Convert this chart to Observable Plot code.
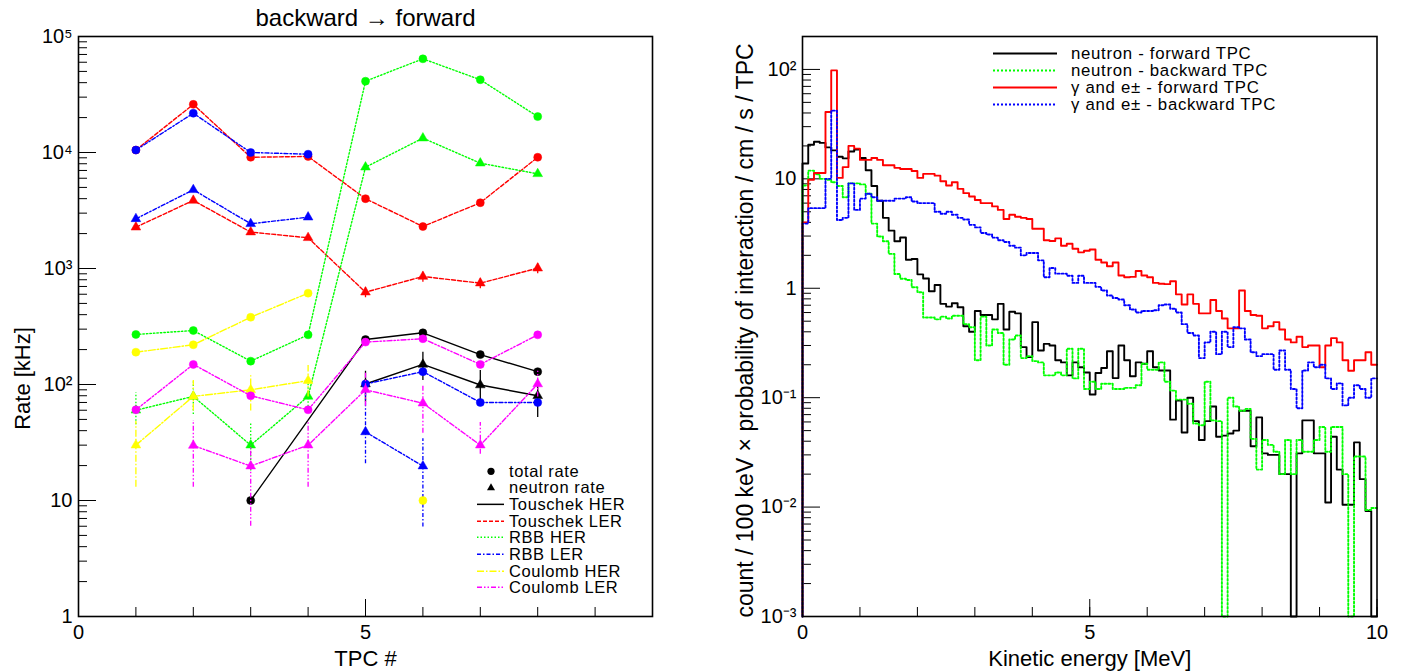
<!DOCTYPE html>
<html><head><meta charset="utf-8">
<script src="https://cdn.jsdelivr.net/npm/d3@7"></script>
<script src="https://cdn.jsdelivr.net/npm/@observablehq/plot@0.6"></script>
<style>
body{margin:0;background:#fff;font-family:"Liberation Sans",Arial,Helvetica,sans-serif;}
#wrap{position:relative;width:1408px;height:671px;overflow:hidden;}
#left,#right{position:absolute;top:0;}
#left{left:0}#right{left:704px}
.legend{position:absolute;color:#000;font-family:"Liberation Sans",Arial,sans-serif;}
.legend .row{display:flex;align-items:center;white-space:nowrap}
.legend svg{flex:none;display:block}
</style></head><body>
<div id="wrap"><div id="left"></div><div id="right"></div><div id="legL" class="legend"></div><div id="legR" class="legend"></div></div>
<script>
// ---------------- LEFT PANEL DATA (rates in kHz, per TPC) ----------------
const tpc = [1, 2, 3, 4, 5, 6, 7, 8];
const leftTitle = "backward \u2192 forward";
const leftYTicks = [1, 10, 100, 1000, 10000, 100000];
const leftYTickLabels = ["1", "10", "10\u00b2", "10\u00b3", "10\u2074", "10\u2075"];
const leftXTickLabels = [0, 5];

const touschekHER_total   = [null, null, 10, null, 244, 279, 181, 129];
const touschekHER_neutron = [null, null, null, null, 101, 149, 99, 80];
const touschekHER_lo      = [null, null, null, null, 70, 108, 73, 52];
const touschekHER_hi      = [null, null, null, null, 130, 190, 132, 102];

const touschekLER_total   = [10500, 26000, 9100, 9240, 4000, 2300, 3690, 9100];
const touschekLER_neutron = [2270, 3860, 2060, 1840, 625, 853, 748, 1006];
const touschekLER_lo      = [null, null, null, null, 560, 760, 670, 900];
const touschekLER_hi      = [null, null, null, null, 700, 960, 840, 1120];

const rbbHER_total   = [270, 292, 159, 268, 41200, 64200, 42400, 20400];
const rbbHER_neutron = [60, 79, 30, 79, 7470, 13300, 8090, 6550];
const rbbHER_lo      = [45, 55, 18, 60, null, null, null, null];
const rbbHER_hi      = [85, 105, 47, 100, null, null, null, null];

const rbbLER_total   = [10500, 21800, 10000, 9670, 101, 129, 70, 70];
const rbbLER_neutron = [2680, 4770, 2430, 2770, 39, 19.8, null, null];
const rbbLER_lo      = [null, null, null, null, 20.7, 5.9, null, null];
const rbbLER_hi      = [null, null, null, null, 92, 34, null, null];
const rbbLER_segT    = [0, 0, 0, 0, 1, 1, 1, 1];
const rbbLER_segN    = [0, 0, 0, 0, 1, 1, 1, 1];

const coulombHER_total   = [190, 220, 380, 613, null, 10, null, null];
const coulombHER_neutron = [30, 79, 90, 108, null, null, null, null];
const coulombHER_lo      = [13, 59, 59, 78, null, null, null, null];
const coulombHER_hi      = [48, 108, 119, 146, null, null, null, null];
const coulombHER_segT    = [0, 0, 0, 0, 1, 1, 1, 1];

const coulombLER_total   = [60.5, 149, 80, 60.5, 232, 248, 149, 268];
const coulombLER_neutron = [null, 29.8, 19.8, 30, 90, 69, 30, 101];
const coulombLER_lo      = [null, 13, 6, 13, 65, 38, 25, 78];
const coulombLER_hi      = [null, 49, 30, 49, 125, 100, 47, 130];

const leftSeriesNames  = ["Touschek HER", "Touschek LER", "RBB HER", "RBB LER", "Coulomb HER", "Coulomb LER"];
const leftSeriesColors = ["#000000", "#ff0000", "#00ff00", "#0000ff", "#ffff00", "#ff00ff"];
const leftSeriesDash   = [null, "4,2", "1.5,2", "4,2,1.5,2", "7,2,1.5,2", "5,2,1.5,2,1.5,2"];

// ---------------- RIGHT PANEL DATA (100 bins of 100 keV, 0-10 MeV) ----------------
const binWidth = 0.1;
const rightYTicks = [0.001, 0.01, 0.1, 1, 10, 100];
const rightYTickLabels = ["10\u207b\u00b3", "10\u207b\u00b2", "10\u207b\u00b9", "1", "10", "10\u00b2"];
const rightXTickLabels = [0, 5, 10];

const neutronForward = [
 13.8, 20.5, 21.8, 21.3, 19.4, 18.2, 15.9, 15.4, 17.8, 18.5,
 15.5, 12.0, 8.6, 6.3, 4.4, 3.36, 2.69, 2.91, 1.82, 1.85,
 1.34, 1.23, 0.94, 1.07, 0.72, 0.68, 0.73, 0.67, 0.45, 0.40,
 0.62, 0.57, 0.57, 0.52, 0.72, 0.42, 0.61, 0.59, 0.29, 0.235,
 0.49, 0.27, 0.31, 0.30, 0.22, 0.21, 0.16, 0.21, 0.19, 0.17,
 0.107, 0.168, 0.187, 0.266, 0.151, 0.30, 0.22, 0.157, 0.21, 0.204,
 0.266, 0.19, 0.177, 0.177, 0.063, 0.094, 0.048, 0.10, 0.061, 0.041,
 0.061, 0.083, 0.044, 0.045, 0.047, 0.05, 0.076, 0.076, 0.036, 0.066,
 0.031, 0.030, 0.030, 0.020, 0.020, 0, 0.031, 0.062, 0.062, 0.031,
 0.031, 0.011, 0.044, 0.022, 0.0105, 0.0105, 0.039, 0.018, 0.0092, 0];
const neutronBackward = [
 8.7, 11.9, 11, 10, 9.8, 9.3, 8.6, 6.8, 9.1, 9.1,
 8.9, 7.3, 3.9, 2.97, 2.69, 2.06, 1.35, 1.22, 1.19, 1.02,
 0.92, 0.54, 0.54, 0.52, 0.55, 0.53, 0.56, 0.56, 0.47, 0.44,
 0.22, 0.55, 0.30, 0.42, 0.39, 0.2, 0.34, 0.37, 0.23, 0.24,
 0.216, 0.21, 0.16, 0.16, 0.17, 0.16, 0.28, 0.15, 0.28, 0.12,
 0.14, 0.12, 0.134, 0.134, 0.12, 0.12, 0.123, 0.123, 0.13, 0.204,
 0.18, 0.18, 0.21, 0.14, 0.116, 0.096, 0.096, 0.088, 0.058, 0.056,
 0.14, 0.062, 0.061, 0, 0.10, 0.083, 0.076, 0.079, 0.042, 0.022,
 0.041, 0.037, 0.032, 0.020, 0.041, 0.020, 0.041, 0.032, 0.032, 0.041,
 0.054, 0.032, 0.054, 0.054, 0.020, 0, 0.029, 0.029, 0.0094, 0.0098];
const gammaForward = [
 4.0, 9.8, 11.3, 11.3, 40.8, 98, 10.2, 12.8, 20, 18.9,
 14.9, 14.9, 15.5, 14.9, 13.3, 13.3, 12.6, 12.3, 12.3, 11.8,
 10.2, 11.1, 11.1, 10.7, 9.5, 8.7, 9.3, 8.1, 7.4, 6.9,
 6.4, 6.0, 6.0, 5.6, 5.2, 4.3, 4.7, 4.5, 4.4, 4.3,
 3.5, 3.5, 2.75, 2.7, 2.86, 2.45, 2.55, 2.3, 2.13, 2.2,
 2.26, 1.82, 1.72, 1.59, 1.72, 1.31, 1.26, 1.27, 1.44, 1.31,
 1.26, 1.12, 1.10, 1.09, 1.16, 0.88, 0.71, 0.88, 0.72, 0.59,
 0.59, 0.78, 0.62, 0.53, 0.43, 0.43, 0.955, 0.62, 0.57, 0.56,
 0.43, 0.45, 0.49, 0.42, 0.34, 0.32, 0.36, 0.29, 0.30, 0.30,
 0.19, 0.30, 0.35, 0.32, 0.22, 0.176, 0.22, 0.22, 0.26, 0.2];
const gammaBackward = [
 3.9, 5.4, 5.4, 5.4, 10, 42, 4.2, 4.4, 9.1, 5.2,
 6.6, 7.3, 6.8, 6.3, 6.3, 6.3, 6.6, 6.6, 6.8, 6.2,
 6.0, 6.0, 6.0, 5.0, 4.8, 5.0, 4.7, 4.4, 4.25, 3.8,
 3.6, 3.2, 3.1, 2.9, 2.75, 2.65, 2.45, 2.35, 2.0, 2.1,
 2.1, 1.8, 1.26, 1.53, 1.36, 1.36, 1.3, 1.12, 1.3, 1.12,
 1.12, 1.03, 0.955, 0.86, 0.815, 0.79, 0.70, 0.64, 0.60, 0.62,
 0.62, 0.63, 0.70, 0.71, 0.65, 0.60, 0.47, 0.39, 0.37, 0.23,
 0.32, 0.40, 0.25, 0.40, 0.29, 0.44, 0.43, 0.34, 0.26, 0.24,
 0.25, 0.25, 0.18, 0.27, 0.18, 0.12, 0.08, 0.177, 0.21, 0.19,
 0.2, 0.15, 0.12, 0.135, 0.085, 0.1, 0.13, 0.12, 0.1, 0.15];

const rightSeriesNames  = ["neutron - forward TPC", "neutron - backward TPC", "\u03b3 and e\u00b1 - forward TPC", "\u03b3 and e\u00b1 - backward TPC"];
const rightSeriesColors = ["#000000", "#00ff00", "#ff0000", "#0000ff"];
const rightSeriesDash   = [null, "2,2", null, "2,2"];
const rightYTitle = "count / 100 keV \u00d7 probability of interaction / cm / s / TPC";
const rightXTitle = "Kinetic energy [MeV]";
const leftYTitle = "Rate [kHz]";
const leftXTitle = "TPC #";

// ---------------- BUILD ----------------
const FONT = '"Liberation Sans", Arial, Helvetica, sans-serif';
const W = 704, H = 671;
const MT = 36, MB = 55;
const TICKFONT = 20, TITLEFONT = 22;

function decadeMinors(lo, hi) {
  const out = [];
  for (let d = lo; d < hi; d *= 10) for (let m = 2; m <= 9; m++) if (d * m < hi) out.push(d * m);
  return out;
}

const leftData = [
  {total: touschekHER_total, neutron: touschekHER_neutron, lo: touschekHER_lo, hi: touschekHER_hi},
  {total: touschekLER_total, neutron: touschekLER_neutron, lo: touschekLER_lo, hi: touschekLER_hi},
  {total: rbbHER_total, neutron: rbbHER_neutron, lo: rbbHER_lo, hi: rbbHER_hi},
  {total: rbbLER_total, neutron: rbbLER_neutron, lo: rbbLER_lo, hi: rbbLER_hi, segT: rbbLER_segT, segN: rbbLER_segN},
  {total: coulombHER_total, neutron: coulombHER_neutron, lo: coulombHER_lo, hi: coulombHER_hi, segT: coulombHER_segT},
  {total: coulombLER_total, neutron: coulombLER_neutron, lo: coulombLER_lo, hi: coulombLER_hi}
];

const leftMarks = [];
const LML = 78, LMR = 52;
const lInnerW = W - LML - LMR, innerH = H - MT - MB;
leftData.forEach((s, k) => {
  const color = leftSeriesColors[k], dash = leftSeriesDash[k];
  const rows = [];
  tpc.forEach((t, i) => {
    if (s.total[i] != null) rows.push({kind: "T", tpc: t, v: s.total[i], seg: s.segT ? s.segT[i] : 0});
    if (s.neutron[i] != null) rows.push({kind: "N", tpc: t, v: s.neutron[i], lo: s.lo[i], hi: s.hi[i], seg: s.segN ? s.segN[i] : 0});
  });
  const errRows = rows.filter(d => d.kind === "N" && d.lo != null);
  leftMarks.push(Plot.ruleX(errRows, {x: "tpc", y1: "lo", y2: "hi", stroke: color, strokeWidth: 1.3, strokeDasharray: dash}));
  leftMarks.push(Plot.line(rows, {x: "tpc", y: "v", z: d => d.kind + d.seg, stroke: color, strokeWidth: 1.4, strokeDasharray: dash}));
  leftMarks.push(Plot.dot(rows.filter(d => d.kind === "T"), {x: "tpc", y: "v", r: 4, fill: color, stroke: color, strokeWidth: 0.5, symbol: "circle"}));
  leftMarks.push(Plot.dot(rows.filter(d => d.kind === "N"), {x: "tpc", y: "v", r: 3.6, fill: color, stroke: color, strokeWidth: 0.5, symbol: "triangle"}));
});

const leftPlot = Plot.plot({
  width: W, height: H, marginLeft: LML, marginRight: LMR, marginTop: MT, marginBottom: MB,
  x: {domain: [0, 10]},
  y: {type: "log", domain: [1, 1e5]},
  style: {fontFamily: FONT, fontSize: TICKFONT + "px", color: "#000", background: "#fff", overflow: "visible"},
  marks: [
    Plot.tickY(decadeMinors(1, 1e5), {y: d => d, insetRight: lInnerW - 9, stroke: "#000", strokeWidth: 1}),
    Plot.tickY(leftYTicks, {y: d => d, insetRight: lInnerW - 18, stroke: "#000", strokeWidth: 1}),
    Plot.tickX(d3.range(0, 11), {x: d => d, insetTop: innerH - 9, stroke: "#000", strokeWidth: 1}),
    Plot.tickX([0, 5, 10], {x: d => d, insetTop: innerH - 17, stroke: "#000", strokeWidth: 1}),
    Plot.axisY({ticks: leftYTicks, tickSize: 0, tickPadding: 6, label: null, fontSize: TICKFONT,
      tickFormat: d => leftYTickLabels[leftYTicks.indexOf(d)]}),
    Plot.axisX({ticks: leftXTickLabels, tickSize: 0, tickPadding: 8, label: null, fontSize: TICKFONT, tickFormat: d => String(d)}),
    ...leftMarks,
    Plot.frame({stroke: "#000", strokeWidth: 1.6}),
    Plot.text([leftTitle], {frameAnchor: "top", dy: -18, lineAnchor: "middle", fontSize: 24, textAnchor: "middle", text: d => d}),
    Plot.text([leftYTitle], {frameAnchor: "left", dx: -56, dy: 52, rotate: -90, textAnchor: "middle", lineAnchor: "middle", fontSize: TITLEFONT, text: d => d}),
    Plot.text([leftXTitle], {frameAnchor: "bottom", dy: 42, lineAnchor: "middle", textAnchor: "middle", fontSize: TITLEFONT, text: d => d})
  ]
});
document.getElementById("left").append(leftPlot);

// right panel
const RML = 98, RMR = 31.5;
const rInnerW = W - RML - RMR;
const YMIN = 1e-3, YMAX = 200;
function stepRows(vals) {
  const r = [{e: 0, v: YMIN}];
  vals.forEach((v, i) => r.push({e: i * binWidth, v: v > 0 ? v : YMIN}));
  r.push({e: vals.length * binWidth, v: vals[vals.length - 1] > 0 ? vals[vals.length - 1] : YMIN});
  return r;
}
const rightVals = [neutronForward, neutronBackward, gammaForward, gammaBackward];
const drawOrder = [0, 1, 2, 3];
const rightMarks = drawOrder.map(k => Plot.line(stepRows(rightVals[k]), {
  x: "e", y: "v", curve: "step-after", stroke: rightSeriesColors[k], strokeWidth: 1.9,
  strokeDasharray: rightSeriesDash[k]
}));

const rightPlot = Plot.plot({
  width: W, height: H, marginLeft: RML, marginRight: RMR, marginTop: MT, marginBottom: MB,
  x: {domain: [0, 10]},
  y: {type: "log", domain: [YMIN, YMAX], clamp: true},
  style: {fontFamily: FONT, fontSize: TICKFONT + "px", color: "#000", background: "#fff", overflow: "visible"},
  marks: [
    Plot.tickY(decadeMinors(1e-3, YMAX), {y: d => d, insetRight: rInnerW - 9, stroke: "#000", strokeWidth: 1}),
    Plot.tickY(rightYTicks, {y: d => d, insetRight: rInnerW - 18, stroke: "#000", strokeWidth: 1}),
    Plot.tickX(d3.range(0, 11), {x: d => d, insetTop: innerH - 9, stroke: "#000", strokeWidth: 1}),
    Plot.tickX([0, 5, 10], {x: d => d, insetTop: innerH - 17, stroke: "#000", strokeWidth: 1}),
    Plot.axisY({ticks: rightYTicks, tickSize: 0, tickPadding: 6, label: null, fontSize: TICKFONT,
      tickFormat: d => rightYTickLabels[rightYTicks.indexOf(d)]}),
    Plot.axisX({ticks: rightXTickLabels, tickSize: 0, tickPadding: 8, label: null, fontSize: TICKFONT, tickFormat: d => String(d)}),
    ...rightMarks,
    Plot.frame({stroke: "#000", strokeWidth: 1.6}),
    Plot.text([rightYTitle], {frameAnchor: "left", dx: -57, dy: 4, rotate: -90, textAnchor: "middle", lineAnchor: "middle", fontSize: 23, text: d => d}),
    Plot.text([rightXTitle], {frameAnchor: "bottom", dy: 42, lineAnchor: "middle", textAnchor: "middle", fontSize: TITLEFONT, text: d => d})
  ]
});
document.getElementById("right").append(rightPlot);

// ---------------- LEGENDS ----------------
const svgNS = "http://www.w3.org/2000/svg";
function swatch(w, h, build) {
  const s = document.createElementNS(svgNS, "svg");
  s.setAttribute("width", w); s.setAttribute("height", h);
  build(s);
  return s;
}
function el(tag, attrs) {
  const e = document.createElementNS(svgNS, tag);
  for (const k in attrs) if (attrs[k] != null) e.setAttribute(k, attrs[k]);
  return e;
}
function addRow(container, w, rowH, build, label) {
  const row = document.createElement("div");
  row.className = "row"; row.style.height = rowH + "px";
  row.append(swatch(w, rowH, build));
  const sp = document.createElement("span"); sp.textContent = label;
  sp.style.lineHeight = rowH + "px";
  row.append(sp);
  container.append(row);
}
// left legend
const legL = document.getElementById("legL");
const rhL = 16.7;
legL.style.left = "477px"; legL.style.top = (471 - rhL / 2) + "px";
legL.style.fontSize = "16.5px"; legL.style.letterSpacing = "0.6px";
addRow(legL, 32, rhL, s => s.append(el("circle", {cx: 14, cy: rhL / 2, r: 3.6, fill: "#000"})), "total rate");
addRow(legL, 32, rhL, s => s.append(el("path", {d: `M14,${rhL/2-4} L18,${rhL/2+3} L10,${rhL/2+3}Z`, fill: "#000"})), "neutron rate");
leftSeriesNames.forEach((n, k) => addRow(legL, 32, rhL, s => s.append(el("line", {x1: 0, x2: 27, y1: rhL / 2, y2: rhL / 2, stroke: leftSeriesColors[k], "stroke-width": 1.5, "stroke-dasharray": leftSeriesDash[k]})), n));

// right legend
const legR = document.getElementById("legR");
const rhR = 17;
legR.style.left = "993px"; legR.style.top = (53 - rhR / 2) + "px";
legR.style.fontSize = "16.8px"; legR.style.letterSpacing = "0.7px";
rightSeriesNames.forEach((n, k) => addRow(legR, 78, rhR, s => s.append(el("line", {x1: 0, x2: 64, y1: rhR / 2, y2: rhR / 2, stroke: rightSeriesColors[k], "stroke-width": 1.9, "stroke-dasharray": rightSeriesDash[k]})), n));
</script></body></html>
